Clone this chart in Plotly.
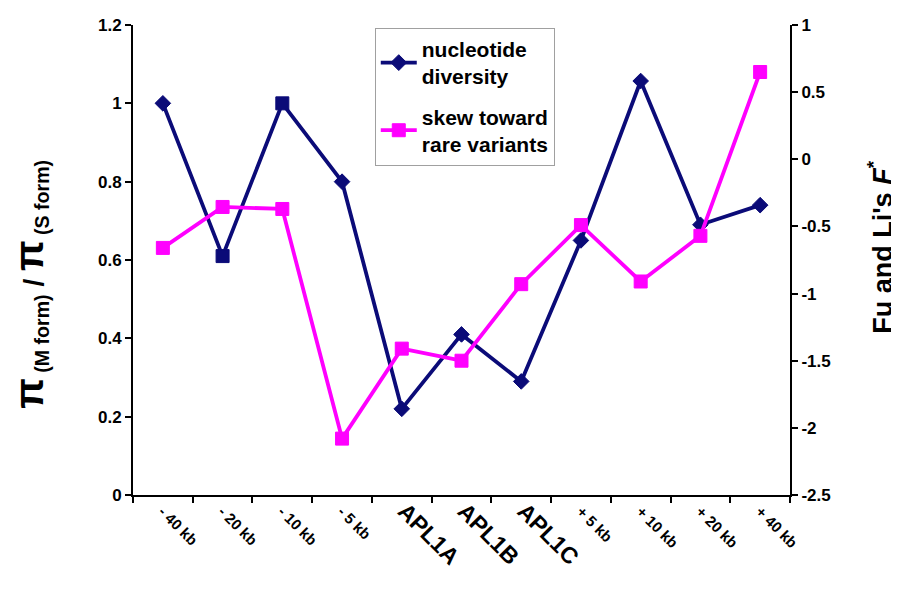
import plotly.graph_objects as go

categories = ["- 40 kb", "- 20 kb", "- 10 kb", "- 5 kb", "APL1A", "APL1B", "APL1C",
              "+ 5 kb", "+ 10 kb", "+ 20 kb", "+ 40 kb"]
nucleotide_diversity = [1.00, 0.61, 1.00, 0.80, 0.22, 0.41, 0.29, 0.65, 1.057, 0.69, 0.74]
skew_rare_variants = [-0.66, -0.355, -0.37, -2.08, -1.41, -1.50, -0.93, -0.49, -0.91, -0.57, 0.65]

left_tickvals = [0, 0.2, 0.4, 0.6, 0.8, 1.0, 1.2]
left_ticktext = ["0", "0.2", "0.4", "0.6", "0.8", "1", "1.2"]
right_tickvals = [-2.5, -2, -1.5, -1, -0.5, 0, 0.5, 1]
right_ticktext = ["-2.5", "-2", "-1.5", "-1", "-0.5", "0", "0.5", "1"]

left_title = ("<span style='font-size:40px'>π</span><sub> (M form)</sub> / "
              "<span style='font-size:40px'>π</span><sub> (S form)</sub>")
right_title = "Fu and Li's <i>F</i><sup>*</sup>"

NAVY = "#0b0b78"
MAGENTA = "#ff00ff"
FONT = "Arial, Liberation Sans, sans-serif"

def tick_label(c):
    if c.startswith("APL"):
        return f"<span style='font-size:23px'>{c}</span>"
    return f"<span style='font-size:15px'>{c}</span>"

navy_symbols = ["diamond", "square", "square"] + ["diamond"] * 8
navy_sizes = [12, 13, 13] + [12] * 8

fig = go.Figure()
fig.add_trace(go.Scatter(
    x=categories, y=nucleotide_diversity, name="nucleotide<br>diversity",
    mode="lines+markers", legendgroup="a",
    line=dict(color=NAVY, width=3.8),
    marker=dict(symbol=navy_symbols, size=navy_sizes, color=NAVY, opacity=1,
                line=dict(color=NAVY, width=1)),
    yaxis="y",
))
fig.add_trace(go.Scatter(
    x=categories, y=skew_rare_variants, name="skew toward<br>rare variants",
    mode="lines+markers", legendgroup="b",
    line=dict(color=MAGENTA, width=3.8),
    marker=dict(symbol="square", size=13, color=MAGENTA, opacity=1,
                line=dict(color=MAGENTA, width=1)),
    yaxis="y2",
))

# page body has an 8px default margin; the figure is sized/offset to compensate
fig.update_layout(
    width=891, height=583,
    paper_bgcolor="white", plot_bgcolor="white",
    margin=dict(l=125, r=109, t=17, b=96),
    font=dict(family=FONT, color="black", size=16, weight="bold"),
    showlegend=True,
    legend=dict(
        x=0.368, y=0.994, xanchor="left", yanchor="top",
        bordercolor="#a0a0a0", borderwidth=1, bgcolor="white",
        font=dict(family=FONT, size=21, color="black", weight="bold"),
        traceorder="grouped", tracegroupgap=10, itemwidth=36,
    ),
    xaxis=dict(
        type="category", automargin=False,
        tickmode="array", tickvals=categories,
        ticktext=[tick_label(c) for c in categories],
        tickangle=45,
        tickson="boundaries",
        ticks="outside", ticklen=6, tickwidth=2, tickcolor="black",
        showline=True, linecolor="black", linewidth=2,
        showgrid=False, zeroline=False,
        range=[-0.5, 10.5],
        tickfont=dict(family=FONT, size=15, color="black", weight="bold"),
    ),
    yaxis=dict(
        range=[0, 1.2], automargin=False,
        tickmode="array", tickvals=left_tickvals, ticktext=left_ticktext,
        ticks="outside", ticklen=6, tickwidth=2, tickcolor="black",
        showline=True, linecolor="black", linewidth=2,
        showgrid=False, zeroline=False,
        tickfont=dict(family=FONT, size=17, color="black", weight="bold"),
    ),
    yaxis2=dict(
        range=[-2.5, 1.0], automargin=False,
        overlaying="y", side="right",
        tickmode="array", tickvals=right_tickvals, ticktext=right_ticktext,
        ticks="outside", ticklen=6, tickwidth=2, tickcolor="black",
        showline=True, linecolor="black", linewidth=2,
        showgrid=False, zeroline=False,
        tickfont=dict(family=FONT, size=17, color="black", weight="bold"),
    ),
    annotations=[
        dict(text=left_title, xref="paper", yref="paper", x=-0.157, y=0.449,
             xanchor="center", yanchor="middle", textangle=-90, showarrow=False,
             font=dict(family=FONT, size=28, color="black", weight="bold")),
        dict(text=right_title, xref="paper", yref="paper", x=1.137, y=0.526,
             xanchor="center", yanchor="middle", textangle=-90, showarrow=False,
             font=dict(family=FONT, size=27, color="black", weight="bold")),
    ],
)

fig.write_html("out.html")
